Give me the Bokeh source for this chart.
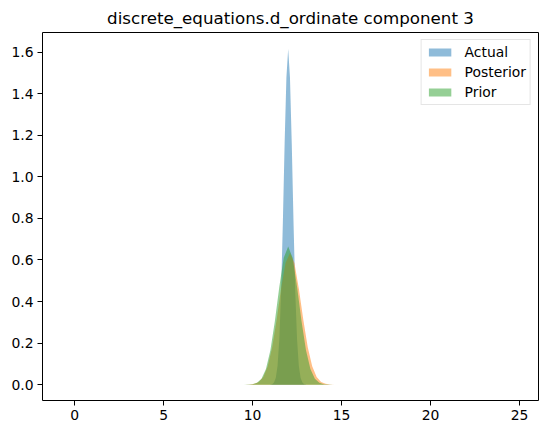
from bokeh.plotting import figure
from bokeh.models import Range1d, FixedTicker, Legend, LegendItem, PrintfTickFormatter
from bokeh.embed import file_html
from bokeh.resources import INLINE

title_text = "discrete_equations.d_ordinate component 3"

actual_x = [11.0, 11.1, 11.2, 11.3, 11.4, 11.5, 11.6, 11.7, 11.8, 11.9, 12.0,
            12.1, 12.2, 12.3, 12.4, 12.5, 12.6, 12.7, 12.8, 12.9, 13.0]
actual_y = [0.001, 0.002, 0.010, 0.032, 0.090, 0.217, 0.445, 0.779, 1.162, 1.477, 1.615,
            1.477, 1.162, 0.779, 0.445, 0.217, 0.090, 0.032, 0.010, 0.002, 0.001]

posterior_x = [9.10, 9.35, 9.60, 9.85, 10.10, 10.35, 10.60, 10.85, 11.10, 11.35, 11.60, 11.85,
               12.10, 12.35, 12.60, 12.85, 13.10, 13.35, 13.60, 13.85, 14.10, 14.35, 14.60,
               14.85, 15.10]
posterior_y = [0.0, 0.00005, 0.0002, 0.0011, 0.0041, 0.0134, 0.0372, 0.0885, 0.180, 0.312, 0.462,
               0.585, 0.633, 0.585, 0.462, 0.312, 0.180, 0.0885, 0.0372, 0.0134, 0.0041, 0.0011,
               0.0002, 0.00005, 0.0]

prior_x = [9.0, 9.25, 9.5, 9.75, 10.0, 10.25, 10.5, 10.75, 11.0, 11.25, 11.5, 11.75, 12.0,
           12.25, 12.5, 12.75, 13.0, 13.25, 13.5, 13.75, 14.0, 14.25, 14.5, 14.75, 15.0]
prior_y = [0.0, 0.00003, 0.0001, 0.0006, 0.0026, 0.0095, 0.029, 0.076, 0.166, 0.305, 0.470,
           0.610, 0.665, 0.610, 0.470, 0.305, 0.166, 0.076, 0.029, 0.0095, 0.0026, 0.0006,
           0.0001, 0.00003, 0.0]

series_labels = ["Actual", "Posterior", "Prior"]
series_colors = ["#1f77b4", "#ff7f0e", "#2ca02c"]

x_ticks = [0, 5, 10, 15, 20, 25]
y_ticks = [0.0, 0.2, 0.4, 0.6, 0.8, 1.0, 1.2, 1.4, 1.6]

FONT = "DejaVu Sans"

p = figure(frame_width=496, frame_height=368,
           x_range=Range1d(-1.81, 26.07), y_range=Range1d(-0.076, 1.694),
           output_backend="svg", toolbar_location=None,
           min_border_left=42, min_border_right=1, min_border_top=24, min_border_bottom=26)

p.title.text = title_text
p.title.align = "center"
p.title.text_font = FONT
p.title.text_font_size = "16.7px"
p.title.text_font_style = "normal"
p.title.text_color = "black"

p.xgrid.visible = False
p.ygrid.visible = False
p.outline_line_color = "black"
p.outline_line_alpha = 1.0
p.outline_line_width = 1

for ax in (p.xaxis, p.yaxis):
    ax.axis_line_color = None
    ax.major_tick_in = 0
    ax.major_tick_out = 5
    ax.minor_tick_line_color = None
    ax.major_tick_line_color = "black"
    ax.major_label_text_font = FONT
    ax.major_label_text_font_size = "13.9px"
    ax.major_label_text_color = "black"
    ax.major_label_standoff = 4

p.xaxis.ticker = FixedTicker(ticks=x_ticks)
p.yaxis.ticker = FixedTicker(ticks=y_ticks)
p.yaxis.formatter = PrintfTickFormatter(format="%.1f")

data = [(actual_x, actual_y), (posterior_x, posterior_y), (prior_x, prior_y)]
items = []
for (xs, ys), lab, col in zip(data, series_labels, series_colors):
    r = p.varea(x=xs, y1=[0] * len(xs), y2=ys, fill_color=col, fill_alpha=0.5)
    items.append(LegendItem(label=lab, renderers=[r]))

legend = Legend(items=items, location="top_right")
legend.label_text_font = FONT
legend.label_text_font_size = "13.9px"
legend.label_text_color = "black"
legend.glyph_width = 28
legend.glyph_height = 10
legend.label_height = 16
legend.spacing = 4
legend.label_standoff = 11
legend.padding = 4
legend.margin = 7
legend.border_line_color = "#cccccc"
legend.border_line_width = 1
legend.background_fill_alpha = 0.8
p.add_layout(legend)

open("out.html", "w").write(file_html(p, INLINE))
